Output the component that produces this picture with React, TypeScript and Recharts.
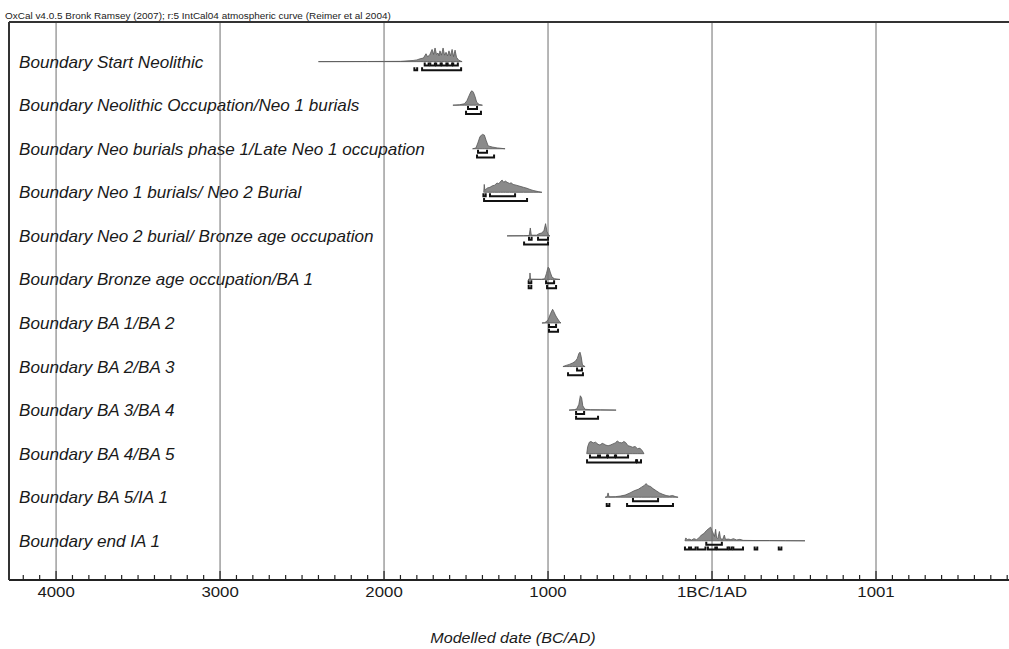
import { ComposedChart, Area, Line, XAxis, YAxis, ReferenceLine } from "recharts";

const TITLE = "OxCal v4.0.5 Bronk Ramsey (2007); r:5 IntCal04 atmospheric curve (Reimer et al 2004)";
const AXIS_TITLE = "Modelled date (BC/AD)";

const ROW_LABELS = [
  "Boundary Start Neolithic",
  "Boundary Neolithic Occupation/Neo 1 burials",
  "Boundary Neo burials phase 1/Late Neo 1 occupation",
  "Boundary Neo 1 burials/ Neo 2 Burial",
  "Boundary Neo 2 burial/ Bronze age occupation",
  "Boundary Bronze age occupation/BA 1",
  "Boundary BA 1/BA 2",
  "Boundary BA 2/BA 3",
  "Boundary BA 3/BA 4",
  "Boundary BA 4/BA 5",
  "Boundary BA 5/IA 1",
  "Boundary end IA 1",
];

// [year (BC negative), relative probability]
const DIST_START_NEO = [
  [-2400, 0], [-2100, 0.01], [-1900, 0.02], [-1823, 0.08], [-1800, 0.12], [-1780, 0.2],
  [-1760, 0.25], [-1744, 0.55], [-1735, 0.35], [-1722, 0.45], [-1707, 0.85], [-1698, 0.5],
  [-1689, 0.95], [-1680, 0.5], [-1671, 0.6], [-1665, 0.4], [-1659, 0.75], [-1650, 0.45],
  [-1640, 0.95], [-1631, 0.45], [-1622, 0.65], [-1613, 0.4], [-1604, 0.75], [-1595, 0.4],
  [-1585, 0.85], [-1576, 0.35], [-1567, 0.8], [-1558, 0.3], [-1545, 0.1], [-1524, 0],
];
const DIST_NEO_OCC = [
  [-1580, 0], [-1540, 0.03], [-1510, 0.1], [-1495, 0.3], [-1480, 0.7], [-1470, 0.95],
  [-1463, 1], [-1455, 0.9], [-1445, 0.6], [-1435, 0.2], [-1420, 0.05], [-1400, 0],
];
const DIST_NEO_BURIALS = [
  [-1460, 0], [-1440, 0.05], [-1428, 0.4], [-1415, 0.85], [-1400, 1], [-1388, 0.95],
  [-1378, 0.6], [-1365, 0.2], [-1340, 0.12], [-1310, 0.06], [-1262, 0],
];
const DIST_NEO1_NEO2 = [
  [-1392, 0], [-1389, 0.55], [-1385, 0.15], [-1370, 0.3], [-1354, 0.35], [-1340, 0.45],
  [-1325, 0.5], [-1311, 0.65], [-1300, 0.6], [-1290, 0.75], [-1280, 0.85], [-1270, 0.7],
  [-1260, 0.78], [-1250, 0.7], [-1235, 0.62], [-1225, 0.66], [-1213, 0.55], [-1195, 0.5],
  [-1171, 0.42], [-1150, 0.35], [-1128, 0.28], [-1110, 0.2], [-1091, 0.13], [-1060, 0.05],
  [-1037, 0],
];
const DIST_NEO2_BRONZE = [
  [-1250, 0], [-1150, 0.01], [-1115, 0.02], [-1108, 0.55], [-1102, 0.05], [-1070, 0.05],
  [-1055, 0.15], [-1040, 0.2], [-1025, 0.35], [-1015, 0.85], [-1006, 0.3], [-995, 0.02],
  [-988, 0],
];
const DIST_BRONZE_BA1 = [
  [-1122, 0], [-1112, 0.02], [-1110, 0.45], [-1107, 0.02], [-1040, 0.01], [-1020, 0.05],
  [-1010, 0.4], [-1000, 0.85], [-994, 0.8], [-985, 0.45], [-975, 0.15], [-960, 0.05],
  [-927, 0],
];
const DIST_BA1_BA2 = [
  [-1037, 0], [-1020, 0.02], [-1000, 0.2], [-985, 0.65], [-972, 0.95], [-965, 0.8],
  [-955, 0.55], [-945, 0.35], [-930, 0.1], [-921, 0],
];
const DIST_BA2_BA3 = [
  [-909, 0], [-890, 0.08], [-870, 0.15], [-850, 0.25], [-835, 0.35], [-822, 0.55],
  [-812, 0.9], [-805, 1], [-798, 0.7], [-790, 0.1], [-774, 0],
];
const DIST_BA3_BA4 = [
  [-872, 0], [-840, 0.03], [-825, 0.08], [-812, 0.4], [-803, 1], [-795, 0.85],
  [-788, 0.3], [-775, 0.06], [-740, 0.03], [-680, 0.02], [-585, 0],
];
const DIST_BA4_BA5 = [
  [-764, 0], [-758, 0.5], [-748, 0.8], [-738, 0.85], [-725, 0.75], [-710, 0.8],
  [-695, 0.65], [-683, 0.6], [-670, 0.72], [-660, 0.68], [-648, 0.6], [-634, 0.55],
  [-620, 0.6], [-604, 0.68], [-590, 0.75], [-578, 0.88], [-565, 0.78], [-549, 0.75],
  [-538, 0.85], [-527, 0.78], [-512, 0.55], [-500, 0.52], [-485, 0.45], [-469, 0.5],
  [-455, 0.35], [-439, 0.38], [-425, 0.2], [-415, 0],
];
const DIST_BA5_IA1 = [
  [-652, 0], [-640, 0.03], [-634, 0.3], [-628, 0.03], [-590, 0.04], [-560, 0.08],
  [-530, 0.15], [-500, 0.3], [-475, 0.45], [-450, 0.55], [-430, 0.7], [-415, 0.8],
  [-402, 0.95], [-390, 0.8], [-375, 0.75], [-360, 0.6], [-340, 0.45], [-320, 0.3],
  [-300, 0.2], [-280, 0.12], [-260, 0.08], [-240, 0.12], [-225, 0.05], [-207, 0],
];
const DIST_END_IA1 = [
  [-165, 0], [-160, 0.2], [-150, 0.08], [-140, 0.12], [-125, 0.05], [-110, 0.15],
  [-95, 0.08], [-80, 0.2], [-65, 0.4], [-50, 0.5], [-35, 0.7], [-20, 0.85], [-8, 0.95],
  [0, 0.7], [8, 0.5], [15, 0.3], [22, 0.8], [28, 0.2], [35, 0.15], [45, 0.65], [52, 0.15],
  [65, 0.1], [75, 0.4], [82, 0.1], [100, 0.12], [115, 0.08], [130, 0.15], [150, 0.06],
  [170, 0.1], [190, 0.03], [250, 0.02], [350, 0.02], [450, 0.01], [567, 0],
];

const DISTRIBUTIONS = [
  DIST_START_NEO, DIST_NEO_OCC, DIST_NEO_BURIALS, DIST_NEO1_NEO2, DIST_NEO2_BRONZE,
  DIST_BRONZE_BA1, DIST_BA1_BA2, DIST_BA2_BA3, DIST_BA3_BA4, DIST_BA4_BA5,
  DIST_BA5_IA1, DIST_END_IA1,
];

// 68.2% and 95.4% highest posterior density ranges, [from, to]
const RANGES_68 = [
  [[-1752, -1728], [-1718, -1690], [-1682, -1655], [-1648, -1620], [-1612, -1585], [-1578, -1550]],
  [[-1488, -1433]],
  [[-1427, -1372]],
  [[-1394, -1380], [-1354, -1201]],
  [[-1116, -1100], [-1061, -1000]],
  [[-1118, -1102], [-1012, -963]],
  [[-994, -951]],
  [[-823, -793]],
  [[-829, -780]],
  [[-744, -695], [-683, -640], [-634, -592], [-585, -512]],
  [[-482, -329]],
  [[-35, 60]],
];
const RANGES_95 = [
  [[-1815, -1798], [-1768, -1530]],
  [[-1500, -1409]],
  [[-1433, -1329]],
  [[-1390, -1128]],
  [[-1146, -1000]],
  [[-1118, -1102], [-1006, -951]],
  [[-994, -939]],
  [[-878, -787]],
  [[-829, -695]],
  [[-762, -463], [-457, -433]],
  [[-642, -626], [-518, -238]],
  [[-165, -140], [-128, -100], [-88, -40], [-25, 20], [30, 95], [105, 120], [130, 189], [260, 276], [407, 423]],
];

const MAJOR_YEARS = [-4000, -3000, -2000, -1000, 0, 1000];
const MAJOR_LABELS = ["4000", "3000", "2000", "1000", "1BC/1AD", "1001"];
const TICK_YEARS: number[] = [];
for (let yr = -4200; yr <= 1800; yr += 100) TICK_YEARS.push(yr);

const X_DOMAIN = [-4287, 1811];
const Y_TOP = 0.91;
const Y_DOMAIN = [-11.9, Y_TOP];
const PEAK = 0.33;
const OFF_68 = 0.09;
const OFF_95 = 0.2;
const HOOK = 0.07;
const FONT = "'Liberation Sans', Arial, sans-serif";

function RowLabel({ y, payload }: any) {
  const row = -payload.value;
  return (
    <text
      transform={`translate(19,${y + 6}) scale(1.07,1)`}
      fontSize={16}
      fontStyle="italic"
      fontFamily={FONT}
      fill="#1a1a1a"
    >
      {ROW_LABELS[row]}
    </text>
  );
}

function YearTick({ x, y, payload }: any) {
  const i = MAJOR_YEARS.indexOf(payload.value);
  const major = i >= 0;
  return (
    <g>
      <line x1={x} x2={x} y1={y} y2={y - (major ? 9 : 5)} stroke="#222" strokeWidth={1.2} />
      {major && (
        <text
          transform={`translate(${x},${y + 17}) scale(1.2,1)`}
          textAnchor="middle"
          fontSize={14}
          fontFamily={FONT}
          fill="#1a1a1a"
        >
          {MAJOR_LABELS[i]}
        </text>
      )}
    </g>
  );
}

function rangeData(from: number, to: number, level: number) {
  return [
    { year: from, v: level + HOOK },
    { year: from, v: level },
    { year: to, v: level },
    { year: to, v: level + HOOK },
  ];
}

export default function App() {
  const rowTicks = ROW_LABELS.map((_, i) => -i);

  return (
    <div style={{ position: "absolute", left: 0, top: 0, width: 1009, height: 649, background: "#fff" }}>
      <ComposedChart width={1009} height={649} margin={{ top: 22, right: 0, left: 0, bottom: 9 }}>
        <XAxis
          type="number"
          dataKey="year"
          domain={X_DOMAIN}
          allowDataOverflow
          ticks={TICK_YEARS}
          interval={0}
          tickSize={0}
          tickMargin={0}
          tick={<YearTick />}
          height={60}
          axisLine={{ stroke: "#222", strokeWidth: 2 }}
        />
        <YAxis
          type="number"
          domain={Y_DOMAIN}
          allowDataOverflow
          ticks={rowTicks}
          interval={0}
          width={9}
          tickSize={0}
          tickMargin={0}
          tickLine={false}
          tick={<RowLabel />}
          axisLine={{ stroke: "#333", strokeWidth: 2 }}
        />
        {MAJOR_YEARS.map((yr) => (
          <ReferenceLine key={`g${yr}`} x={yr} stroke="#6e6e6e" strokeWidth={1} />
        ))}
        <ReferenceLine y={Y_TOP} stroke="#333" strokeWidth={2} />
        {DISTRIBUTIONS.map((dist, row) => (
          <Area
            key={`d${row}`}
            data={dist.map(([yr, p]) => ({ year: yr, band: [-row, -row + p * PEAK] }))}
            dataKey="band"
            type="linear"
            stroke="#555"
            strokeWidth={0.8}
            fill="#8a8a8a"
            fillOpacity={1}
            dot={false}
            activeDot={false}
            isAnimationActive={false}
          />
        ))}
        {RANGES_68.map((list, row) =>
          list.map(([from, to], k) => (
            <Line
              key={`a${row}-${k}`}
              data={rangeData(from, to, -row - OFF_68)}
              dataKey="v"
              type="linear"
              stroke="#111"
              strokeWidth={2}
              dot={false}
              activeDot={false}
              isAnimationActive={false}
            />
          ))
        )}
        {RANGES_95.map((list, row) =>
          list.map(([from, to], k) => (
            <Line
              key={`b${row}-${k}`}
              data={rangeData(from, to, -row - OFF_95)}
              dataKey="v"
              type="linear"
              stroke="#111"
              strokeWidth={2}
              dot={false}
              activeDot={false}
              isAnimationActive={false}
            />
          ))
        )}
      </ComposedChart>
      <svg width={1009} height={649} style={{ position: "absolute", left: 0, top: 0, pointerEvents: "none" }}>
        <text transform="translate(5,19) scale(1.17,1)" fontSize={8.5} fontFamily={FONT} fill="#222">
          {TITLE}
        </text>
        <text
          transform="translate(513,643) scale(1.15,1)"
          textAnchor="middle"
          fontSize={14}
          fontStyle="italic"
          fontFamily={FONT}
          fill="#1a1a1a"
        >
          {AXIS_TITLE}
        </text>
      </svg>
    </div>
  );
}
